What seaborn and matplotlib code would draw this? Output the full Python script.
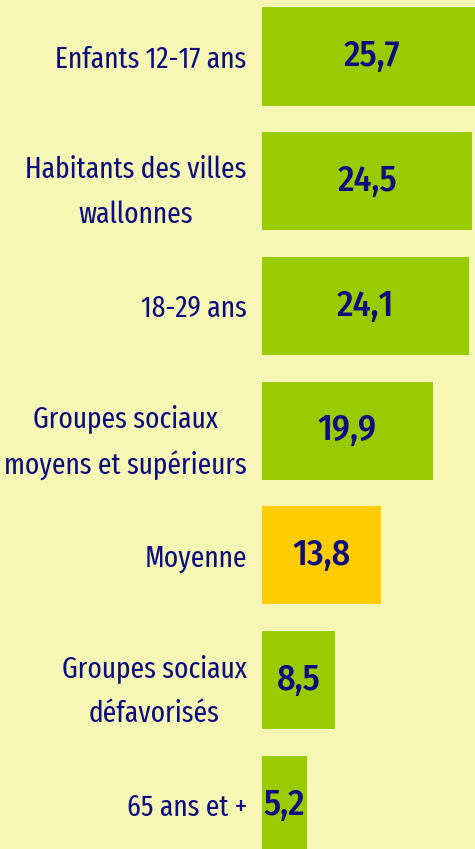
import matplotlib
matplotlib.use("Agg")
import matplotlib.pyplot as plt
import seaborn as sns
import pandas as pd

# =========================
# DATA
# =========================

categories = [
    "Enfants 12-17 ans",
    "Habitants des villes\nwallonnes",
    "18-29 ans",
    "Groupes sociaux\nmoyens et supérieurs",
    "Moyenne",
    "Groupes sociaux\ndéfavorisés",
    "65 ans et +",
]
values = [25.7, 24.5, 24.1, 19.9, 13.8, 8.5, 5.2]
groups = ["groupe", "groupe", "groupe", "groupe", "moyenne", "groupe", "groupe"]

df = pd.DataFrame({"cat": categories, "val": values, "grp": groups})

bg = "#F7F7B5"
navy = "#0D0D80"
palette = {"groupe": "#99CC00", "moyenne": "#FFCC00"}

sns.set_style("white")
plt.rcParams["font.family"] = ["Fira Sans Extra Condensed", "DejaVu Sans"]

# =========================
# PLOT
# =========================

fig = plt.figure(figsize=(4.75, 8.49), dpi=100, facecolor=bg)
ax = fig.add_axes([262 / 475, 0, 1 - 262 / 475, 1])
ax.set_facecolor(bg)

sns.barplot(
    data=df, x="val", y="cat", hue="grp", palette=palette,
    orient="h", width=0.786, dodge=False, legend=False, ax=ax,
    saturation=1, linewidth=0,
)

ax.set_xlim(0, 24.8)
ax.set_ylim(6.355, -0.453)

# value labels inside the bars
for i, v in enumerate(values):
    ax.text(v / 2, i, f"{v:.1f}".replace(".", ","), ha="center", va="center",
            fontsize=26, fontweight="medium", color=navy,
            family=["Fira Sans Condensed", "DejaVu Sans"])

ax.set_xlabel("")
ax.set_ylabel("")
ax.set_xticks([])
ax.tick_params(axis="y", length=0, pad=11)
for lab in ax.get_yticklabels():
    lab.set_fontsize(21.5)
    lab.set_color(navy)
    lab.set_multialignment("center")
    lab.set_linespacing(1.72)

sns.despine(ax=ax, left=True, bottom=True)

fig.savefig("out.png", dpi=100, facecolor=bg)
